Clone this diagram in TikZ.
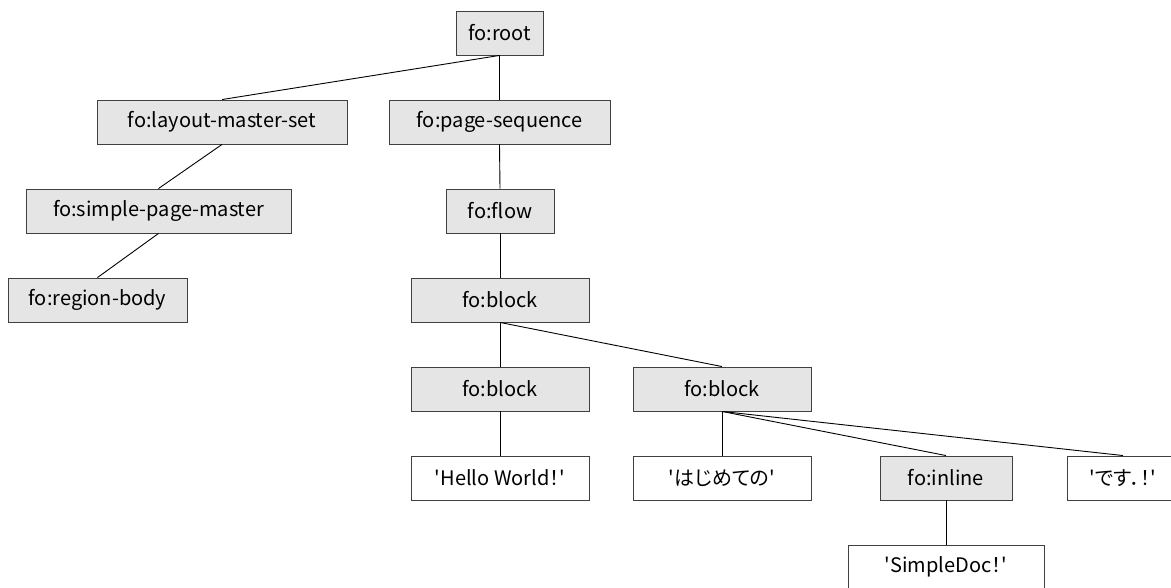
\documentclass[tikz,border=0pt]{standalone}
\usepackage{fontspec}
\setmainfont{Noto Sans CJK JP}[Ligatures=TeXOff,RawFeature=+palt]
\usetikzlibrary{positioning}

\begin{document}
\begin{tikzpicture}[x=1pt,y=-1pt]

\tikzset{elem/.style = {shape=rectangle,draw=black!75,line width=0.9pt,fill=black!10,minimum height=44pt,inner sep=0pt,font=\fontsize{20}{24}\selectfont}}
\tikzset{txt/.style = {elem,fill=white}}
\tikzset{edge/.style = {draw=black,line width=0.9pt}}
\clip (0,0) rectangle (1171,588);
%elements
\node[elem, minimum width=87pt] (root) at (499.5,33) {fo:root};
\node[elem, minimum width=250pt] (lms) at (222,122) {fo:layout-master-set};
\node[elem, minimum width=221pt] (pseq) at (499.5,122) {fo:page-sequence};
\node[elem, minimum width=265pt] (spm) at (158.5,211) {fo:simple-page-master};
\node[elem, minimum width=108pt] (flow) at (500,211) {fo:flow};
\node[elem, minimum width=179pt] (rbody) at (97.5,300) {fo:region-body};
\node[elem, minimum width=178pt] (block) at (500,300) {fo:block};
\node[elem, minimum width=178pt] (blocka) at (500,389) {fo:block};
\node[elem, minimum width=178pt] (blockb) at (722,389) {fo:block};
\node[txt, minimum width=178pt] (hello) at (500,478) {'Hello World！'};
\node[txt, minimum width=178pt] (hajime) at (722,478) {'はじめての'};
\node[elem, minimum width=132pt] (inline) at (946,478) {fo:inline};
\node[txt, minimum width=112pt] (desu) at (1123,478) {'です．！'};
\node[txt, minimum width=196pt] (sdoc) at (946,567) {'SimpleDoc！'};
%edges
\draw[edge] (root.south) -- (lms.north);
\draw[edge] (root.south) -- (pseq.north);
\draw[edge] (lms.south) -- (spm.north);
\draw[edge] (spm.south) -- (rbody.north);
\draw[edge] (pseq.south) -- (flow.north);
\draw[edge] (flow.south) -- (block.north);
\draw[edge] (block.south) -- (blocka.north);
\draw[edge] (block.south) -- (blockb.north);
\draw[edge] (blocka.south) -- (hello.north);
\draw[edge] (blockb.south) -- (hajime.north);
\draw[edge] (blockb.south) -- (inline.north);
\draw[edge] (blockb.south) -- (desu.north);
\draw[edge] (inline.south) -- (sdoc.north);

\end{tikzpicture}
\end{document}
